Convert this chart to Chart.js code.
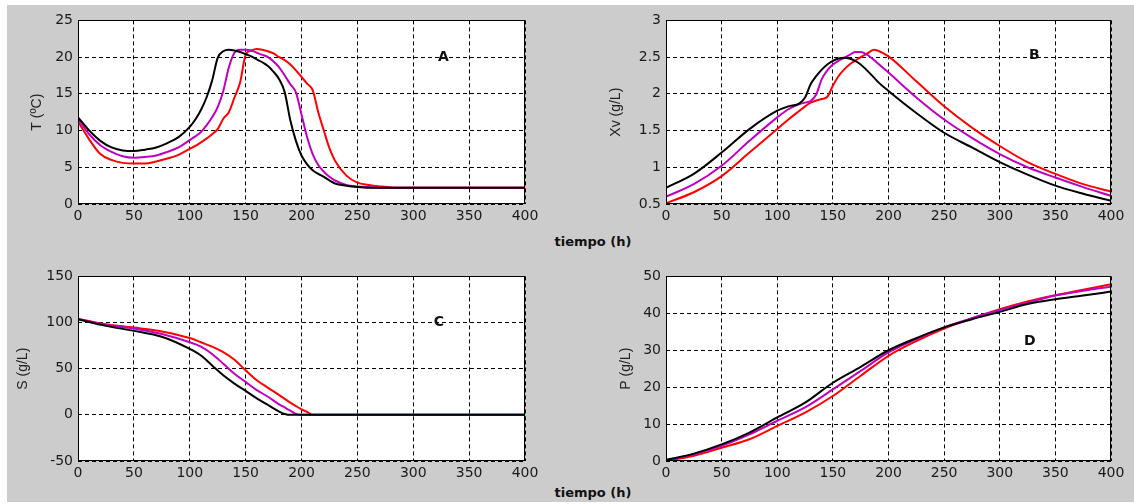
<!DOCTYPE html>
<html><head><meta charset="utf-8">
<script src="https://cdn.jsdelivr.net/npm/chart.js@4.4.1/dist/chart.umd.min.js"></script>
<style>
html,body{margin:0;padding:0;background:#fff;width:1134px;height:504px;overflow:hidden;position:relative;}
#bg{position:absolute;left:7px;top:5px;width:1127px;height:497px;background:#cccccc;}
canvas{position:absolute;}
.xt{position:absolute;font:bold 13px "DejaVu Sans",sans-serif;color:#111;white-space:nowrap;transform:translate(-50%,-50%);}
</style></head><body>
<div id="bg"></div>
<div class="xt" style="left:593px;top:241px">tiempo (h)</div>
<div class="xt" style="left:593px;top:492px">tiempo (h)</div>
<script>
// ---------- DATA ----------
const xTicks = [0,50,100,150,200,250,300,350,400];

// Panel A : temperature
const tA = [0,5,10,20,30,40,50,60,70,80,90,100,105,110,115,120,125,130,135,140,145,150,155,160,165,170,175,180,185,190,195,200,205,210,215,220,225,230,240,250,260,270,280,300,350,400];
const blackA = [11.8,10.9,10.0,8.6,7.7,7.3,7.2,7.4,7.7,8.3,9.1,10.5,11.5,12.8,14.5,16.8,19.9,20.8,21.0,20.9,20.7,20.4,20.1,19.7,19.3,18.8,18.0,17.0,15.2,11.4,8.6,6.6,5.4,4.6,4.1,3.7,3.2,2.8,2.5,2.3,2.2,2.2,2.2,2.2,2.2,2.2];
const magentaA = [11.6,10.5,9.5,8.0,7.1,6.5,6.3,6.4,6.6,7.1,7.7,8.7,9.2,9.8,10.7,11.8,13.2,15.4,18.6,20.6,21.0,21.0,20.9,20.6,20.3,20.0,19.4,18.6,17.5,16.3,15.2,12.2,9.1,6.8,5.3,4.4,3.7,3.2,2.6,2.4,2.3,2.2,2.2,2.2,2.2,2.2];
const redA = [11.2,10.0,8.8,6.8,6.0,5.6,5.5,5.5,5.8,6.2,6.7,7.5,7.9,8.4,8.9,9.5,10.2,11.6,12.5,14.5,16.5,20.3,20.9,21.1,21.0,20.8,20.5,20.0,19.6,19.0,18.2,17.3,16.4,15.5,12.5,10.0,7.6,5.9,3.9,2.9,2.6,2.4,2.25,2.2,2.2,2.2];
const yTicksA = [0,5,10,15,20,25];

// Panel B : viable biomass
const tB = [0,25,50,75,100,110,120,125,130,135,140,145,150,155,160,165,170,175,180,187,190,200,225,250,275,300,325,350,375,400];
const blackB = [0.72,0.91,1.20,1.52,1.77,1.83,1.87,1.95,2.13,2.24,2.33,2.40,2.45,2.48,2.49,2.48,2.45,2.40,2.33,2.22,2.17,2.04,1.74,1.47,1.27,1.07,0.90,0.75,0.64,0.545];
const magentaB = [0.60,0.77,1.02,1.36,1.68,1.79,1.86,1.88,1.90,1.99,2.20,2.32,2.40,2.45,2.49,2.53,2.57,2.57,2.54,2.46,2.42,2.29,1.95,1.65,1.40,1.18,1.00,0.86,0.73,0.61];
const redB = [0.51,0.66,0.88,1.20,1.52,1.65,1.77,1.83,1.88,1.91,1.93,1.96,2.11,2.24,2.33,2.40,2.45,2.50,2.54,2.60,2.59,2.51,2.17,1.83,1.54,1.29,1.07,0.91,0.77,0.67];
const yTicksB = [0.5,1,1.5,2,2.5,3];

// Panel C : substrate
const tC = [0,25,50,75,100,110,120,130,140,150,160,170,180,185,190,195,200,205,210,250,300,350,400];
const blackC = [103.6,96.4,91,84.6,71.4,64.3,53.6,42.9,33.9,26,17.9,10.7,3.6,1,0,0,0,0,0,0,0,0,0];
const magentaC = [104,97.5,93.6,87.5,78.6,74,66,55.4,44.6,35.7,26.8,19.6,11.4,8,4.6,1,0,0,0,0,0,0,0];
const redC = [104,98.2,94.6,90.4,83.2,78.6,73.9,67.9,59.6,48.2,37.5,29.3,21.4,17.3,13.2,9.5,6,3.2,0,0,0,0,0];
const yTicksC = [-50,0,50,100,150];

// Panel D : product
const tD = [0,25,50,75,100,125,150,175,200,225,250,275,300,325,350,375,400];
const blackD = [0.3,2.0,4.5,7.7,11.8,15.8,21.2,25.5,30.0,33.3,36.2,38.4,40.4,42.5,43.8,44.8,45.9];
const magentaD = [0.2,1.8,4.1,7.2,10.9,14.5,19.4,24.4,29.4,33.0,36.2,38.7,40.9,42.9,44.8,46.1,47.2];
const redD = [0,1.4,3.6,5.9,9.5,13.1,17.6,23.1,28.5,32.5,35.9,38.6,41.1,43.2,44.9,46.4,47.9];
const yTicksD = [0,10,20,30,40,50];

// ---------- DRAWING ----------
const COLORS = ['#000000','#c000c0','#ff0000'];
const TICKFONT = {family:'"DejaVu Sans", sans-serif', size:14};
const TITLEFONT = {family:'"Liberation Sans", Arial, sans-serif', size:14};

function pts(t, v){ return t.map((x,i)=>({x:x, y:v[i]})); }

function panel(box, yTitle, yTicks, times, series, tag){
  const pl=2, pt=12, pr=25, pb=2, xh=28;
  const cx = Math.round(box.titleX - 8.4 - pl);
  const cy = box.top - pt;
  const W = box.right + pr - cx;
  const H = box.bottom + xh + pb - cy;
  const c = document.createElement('canvas');
  c.width = W; c.height = H;
  c.style.left = cx+'px'; c.style.top = cy+'px';
  c.style.width = W+'px'; c.style.height = H+'px';
  document.body.appendChild(c);
  const yW = box.left - cx - pl;
  const frame = {
    id:'frame',
    beforeDraw(ch){
      const a = ch.chartArea, g = ch.ctx;
      g.save(); g.fillStyle = '#ffffff';
      g.fillRect(a.left, a.top, a.right-a.left, a.bottom-a.top);
      g.restore();
    },
    afterDraw(ch){
      const a = ch.chartArea, g = ch.ctx;
      g.save();
      g.font = 'bold 14px "DejaVu Sans", sans-serif';
      g.fillStyle = '#111'; g.textAlign='center'; g.textBaseline='middle';
      g.fillText(tag.text, ch.scales.x.getPixelForValue(tag.x), ch.scales.y.getPixelForValue(tag.y));
      g.strokeStyle = '#000'; g.lineWidth = 1;
      g.strokeRect(Math.round(a.left)+0.5, Math.round(a.top)+0.5, Math.round(a.right-a.left)-1, Math.round(a.bottom-a.top)-1);
      g.restore();
    }
  };
  new Chart(c, {
    type:'line',
    data:{ datasets: series.map((v,i)=>({
      data: pts(times, v), borderColor: COLORS[i], borderWidth: 2,
      pointRadius: 0, cubicInterpolationMode:'monotone', fill:false
    }))},
    options:{
      responsive:false, animation:false, devicePixelRatio:1,
      layout:{padding:{left:pl, top:pt, right:pr, bottom:pb}},
      plugins:{legend:{display:false}, tooltip:{enabled:false}},
      scales:{
        x:{ type:'linear', min:0, max:400,
            afterBuildTicks: s => { s.ticks = xTicks.map(v=>({value:v})); },
            afterFit: s => { s.height = xh; },
            grid:{ color:'#000', lineWidth:1, drawTicks:false },
            border:{ display:false, dash:[4,3] },
            ticks:{ font:TICKFONT, color:'#1a1a1a', padding:4, maxRotation:0, autoSkip:false, callback: v => String(v) } },
        y:{ type:'linear', min: yTicks[0], max: yTicks[yTicks.length-1],
            afterBuildTicks: s => { s.ticks = yTicks.map(v=>({value:v})); },
            afterFit: s => { s.width = yW; },
            grid:{ color:'#000', lineWidth:1, drawTicks:false },
            border:{ display:false, dash:[4,3] },
            ticks:{ font:TICKFONT, color:'#1a1a1a', padding:5, autoSkip:false, callback: v => String(v) },
            title:{ display:true, text:yTitle, font:TITLEFONT, color:'#222', padding:0 } }
      }
    },
    plugins:[frame]
  });
}

panel({left:78, right:525, top:19, bottom:204, titleX:37}, 'T (ºC)', yTicksA, tA, [blackA, magentaA, redA], {text:'A', x:327, y:20});
panel({left:666, right:1111, top:19, bottom:204, titleX:616}, 'Xv (g/L)', yTicksB, tB, [blackB, magentaB, redB], {text:'B', x:331, y:2.52});
panel({left:78, right:525, top:275, bottom:461, titleX:23}, 'S (g/L)', yTicksC, tC, [blackC, magentaC, redC], {text:'C', x:323, y:100});
panel({left:666, right:1111, top:275, bottom:461, titleX:626}, 'P (g/L)', yTicksD, tD, [blackD, magentaD, redD], {text:'D', x:327, y:32.4});
</script>
</body></html>
